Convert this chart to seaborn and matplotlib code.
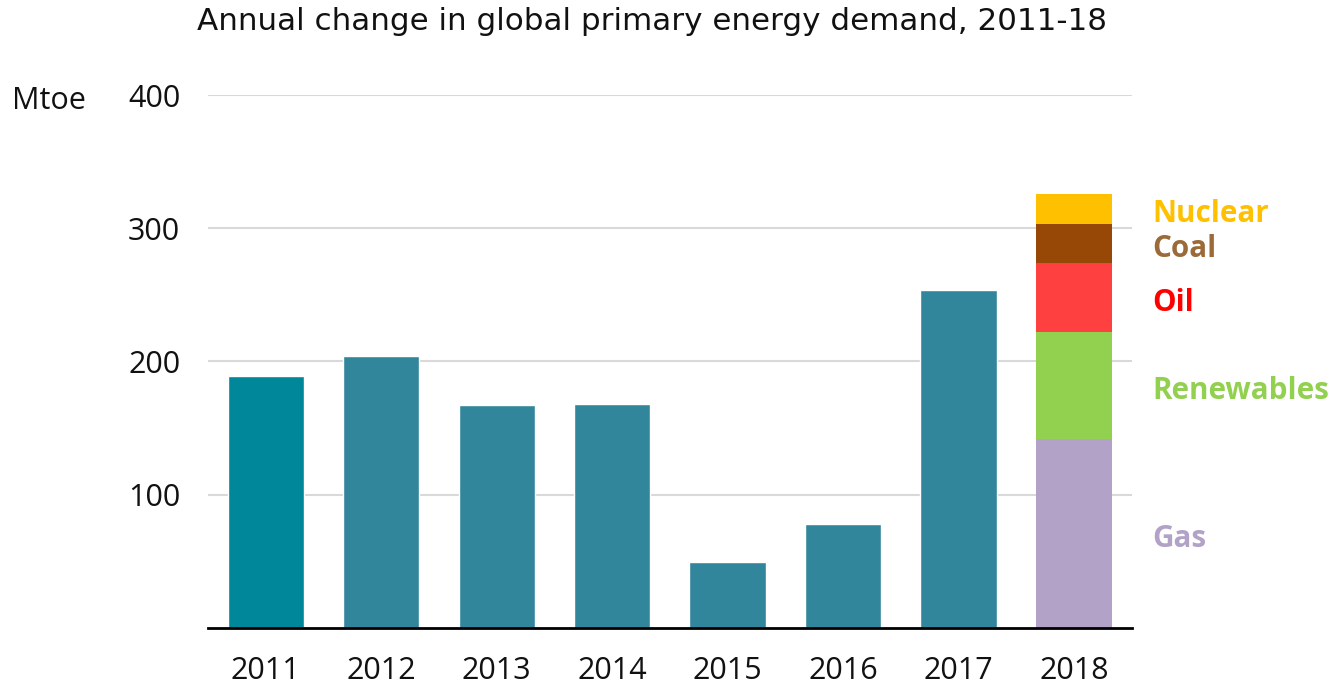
import numpy as np
import pandas as pd
import matplotlib.pyplot as plt
import seaborn as sns

# data (Mtoe)
years = ["2011", "2012", "2013", "2014", "2015", "2016", "2017", "2018"]
demand = [189, 204, 167, 168, 49.5, 78, 253.5]      # 2011-2017 totals
fuels = ["Gas", "Renewables", "Oil", "Coal", "Nuclear"]
fuel_2018 = [142, 80, 52, 29, 23]                   # 2018 stacked contributions

bar_colors = ["#00879A"] + ["#31869B"] * 6
fuel_colors = ["#B2A2C7", "#92D050", "#FF4040", "#974706", "#FFC000"]
label_colors = ["#B2A2C7", "#92D050", "#FF0000", "#9C6A38", "#FFC000"]

sns.set_theme(style="white")
plt.rcParams['font.family'] = ['Open Sans', 'DejaVu Sans']

fig = plt.figure(figsize=(13.33, 6.84), dpi=100)
ax = fig.add_axes([0.156, 0.0819, 0.693, 0.7792])

df = pd.DataFrame({"year": years[:-1], "demand": demand})
sns.barplot(data=df, x="year", y="demand", order=years, hue="year",
            palette=bar_colors, hue_order=years[:-1], legend=False,
            width=0.66, saturation=1, ax=ax, zorder=3)

# stacked 2018 bar, labels beside each segment
bottom = 0
for name, val, col, lcol in zip(fuels, fuel_2018, fuel_colors, label_colors):
    ax.bar(7, val, bottom=bottom, width=0.66, color=col, zorder=3, linewidth=0)
    ax.text(7.68, bottom + val / 2 - 4, name, color=lcol, fontsize=21.3,
            fontweight='bold', ha='left', va='center')
    bottom += val

ax.set_xlim(-0.5, 7.5)
ax.set_ylim(0, 400)
ax.set_yticks([100, 200, 300, 400])
ax.yaxis.grid(True, color="#D9D9D9", linewidth=1.5, zorder=0)
ax.set_axisbelow(True)
for s in ["left", "right", "top"]:
    ax.spines[s].set_visible(False)
ax.spines["bottom"].set_color("black")
ax.spines["bottom"].set_linewidth(2)
ax.spines["bottom"].set_zorder(4)
ax.tick_params(axis='both', length=0, labelsize=22, colors="#111111")
ax.tick_params(axis='x', pad=20)
ax.tick_params(axis='y', pad=20)
ax.set_xlabel("")
ax.set_ylabel("")

fig.text(0.009, 0.853, "Mtoe", fontsize=22, ha='left', va='center', color="#111111")
fig.text(0.489, 0.968, "Annual change in global primary energy demand, 2011-18",
         fontsize=22.3, ha='center', va='center', color="#111111",
         family=['DejaVu Sans'])

plt.savefig("out.png", dpi=100)
